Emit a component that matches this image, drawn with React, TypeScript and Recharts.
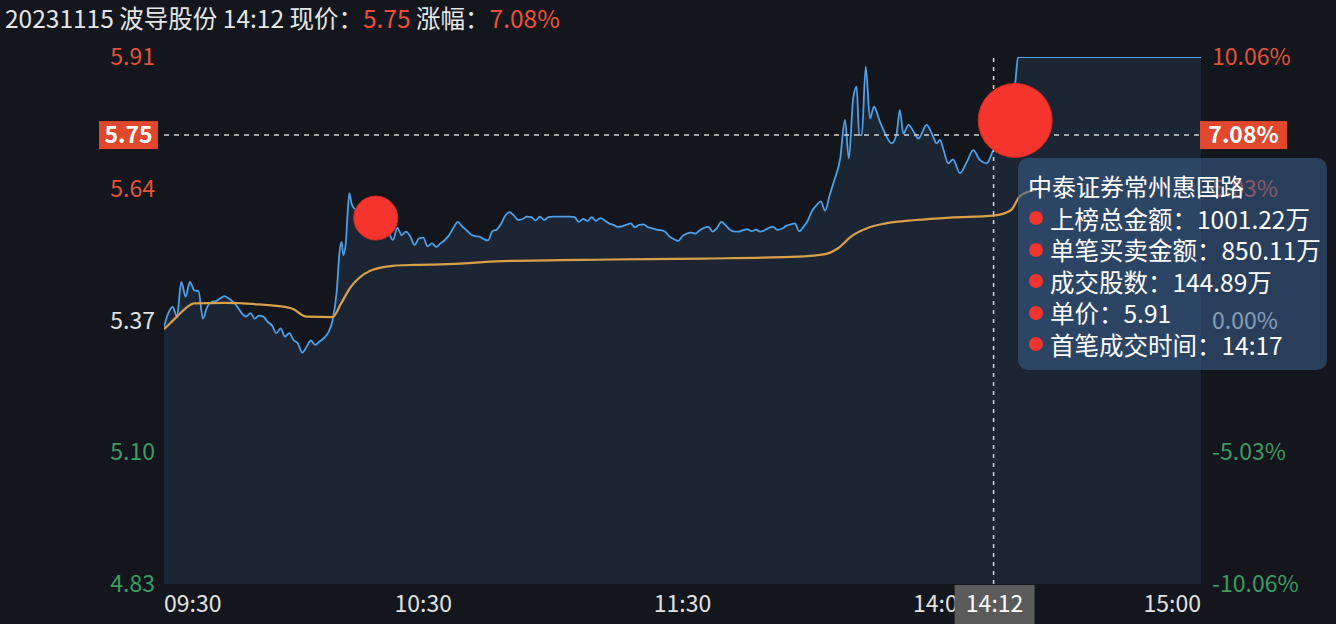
import React from 'react';
import { ComposedChart, Area, Line, XAxis, YAxis, ReferenceLine, ReferenceDot } from 'recharts';

const FONT = '"Noto Sans CJK SC", "Noto Sans", sans-serif';

const titleDate = '20231115';
const stockName = '波导股份';
const currentTime = '14:12';
const currentPrice = 5.75;
const currentPct = '7.08%';
const prevClose = 5.37;

const priceTimes = [
  '09:30','09:31','09:32','09:33','09:34','09:35','09:36','09:37','09:38','09:39',
  '09:40','09:41','09:42','09:43','09:44','09:45','09:46','09:47','09:48','09:49',
  '09:50','09:51','09:52','09:53','09:54','09:55','09:56','09:57','09:58','09:59',
  '10:00','10:01','10:02','10:03','10:04','10:05','10:06','10:07','10:08','10:09',
  '10:10','10:10:36','10:11:06','10:11:30','10:12:06','10:12:24','10:12:54','10:13:24',
  '10:14','10:15','10:16','10:17','10:18','10:19','10:20','10:21','10:22','10:23',
  '10:24','10:25','10:26','10:27','10:28','10:29','10:30','10:31','10:32','10:33',
  '10:34','10:35','10:36','10:37','10:38','10:39','10:40','10:41','10:42','10:43',
  '10:44','10:45','10:46','10:47','10:48','10:49','10:50','10:51','10:52','10:53',
  '10:54','10:55','10:56','10:57','10:58','10:59','11:00','11:01','11:02','11:03',
  '11:04','11:05','11:06','11:07','11:08','11:09','11:10','11:11','11:12','11:13',
  '11:14','11:15','11:16','11:17','11:18','11:19','11:20','11:21','11:22','11:23',
  '11:24','11:25','11:26','11:27','11:28','11:29','11:30',
  '13:01','13:02','13:03','13:04','13:05','13:06','13:07','13:08','13:09','13:10',
  '13:11','13:12','13:13','13:14','13:15','13:16','13:17','13:18','13:19','13:20',
  '13:21','13:22','13:23','13:24','13:25','13:26','13:27','13:28','13:29','13:30',
  '13:31','13:32','13:33','13:34','13:35','13:36:30','13:37:36','13:38:30','13:39:30',
  '13:40:18','13:40:54','13:41:30','13:42:24','13:43:24','13:44:18','13:45:42','13:46:54',
  '13:48:24','13:49:30','13:50:18','13:51:06','13:52:18','13:53:18','13:54:36','13:56:30',
  '13:58:00','13:58:48','13:59:36','14:00:18','14:01:30','14:02:36','14:04:12','14:05:48',
  '14:07:18','14:08:48','14:10:24','14:11:54','14:13','14:14','14:15','14:16','14:17',
  '14:17:40','15:00',
];

const prices = [
  5.357,5.385,5.398,5.378,5.449,5.419,5.449,5.432,5.43,5.374,
  5.398,5.408,5.41,5.415,5.42,5.415,5.408,5.398,5.385,5.378,
  5.385,5.374,5.38,5.378,5.367,5.36,5.344,5.354,5.337,5.344,
  5.33,5.323,5.304,5.316,5.329,5.32,5.327,5.334,5.345,5.37,
  5.432,5.508,5.531,5.504,5.531,5.576,5.631,5.61,
  5.6,5.595,5.59,5.585,5.58,5.578,5.57,5.565,5.55,5.535,
  5.56,5.545,5.552,5.542,5.525,5.538,5.54,5.522,5.528,5.521,
  5.528,5.535,5.545,5.56,5.572,5.563,5.555,5.547,5.543,5.542,
  5.537,5.534,5.553,5.556,5.568,5.585,5.592,5.585,5.576,5.578,
  5.583,5.582,5.575,5.583,5.576,5.582,5.583,5.583,5.583,5.583,
  5.583,5.582,5.572,5.578,5.574,5.582,5.574,5.58,5.575,5.569,
  5.566,5.562,5.563,5.566,5.569,5.561,5.566,5.567,5.561,5.559,
  5.556,5.555,5.552,5.542,5.537,5.533,5.543,
  5.548,5.55,5.548,5.555,5.56,5.562,5.552,5.56,5.572,5.565,
  5.556,5.552,5.552,5.555,5.557,5.553,5.556,5.552,5.555,5.56,
  5.562,5.556,5.558,5.564,5.567,5.569,5.553,5.562,5.575,5.595,
  5.606,5.614,5.595,5.625,5.654,5.702,5.781,5.702,5.825,
  5.849,5.75,5.75,5.89,5.784,5.808,5.777,5.753,
  5.733,5.75,5.801,5.753,5.771,5.76,5.743,5.771,
  5.747,5.733,5.74,5.723,5.692,5.7,5.672,5.695,
  5.719,5.699,5.692,5.719,5.74,5.76,5.79,5.82,5.856,
  5.91,5.91,
];

const avgTimes = [
  '09:30','09:33','09:35','09:37','09:44','09:52','09:58','10:00','10:02','10:03',
  '10:09','10:11','10:13','10:15','10:18','10:23','10:28','10:34','10:50','11:13',
  '13:05','13:27','13:33','13:36','13:39','13:43','13:47','13:54','14:02','14:12',
  '14:16','14:18','14:20','14:22',
];
const avgPrices = [
  5.352,5.378,5.395,5.405,5.406,5.403,5.398,5.393,5.381,5.378,
  5.377,5.405,5.436,5.456,5.473,5.482,5.484,5.485,5.492,5.495,
  5.497,5.501,5.506,5.518,5.542,5.56,5.569,5.576,5.581,5.585,
  5.596,5.624,5.634,5.638,
];

const markerTimes = ['10:19', '14:17'];
const markerPrices = [5.58, 5.78];

const yTicks = [4.83, 5.1, 5.37, 5.64, 5.91];
const yTickLabels = ['4.83', '5.10', '5.37', '5.64', '5.91'];
const pctLabels = ['-10.06%', '-5.03%', '0.00%', '5.03%', '10.06%'];
const xTickTimes = ['09:30', '10:30', '11:30', '14:00', '15:00'];

const tooltipTitle = '中泰证券常州惠国路';
const tooltipLabels = ['上榜总金额', '单笔买卖金额', '成交股数', '单价', '首笔成交时间'];
const tooltipValues = ['1001.22万', '850.11万', '144.89万', '5.91', '14:17'];

function toIndex(t: string): number {
  const parts = t.split(':').map(Number);
  const mins = parts[0] * 60 + parts[1] + (parts[2] || 0) / 60;
  return mins <= 690 ? mins - 570 : mins - 780 + 120;
}

const priceData = priceTimes.map((t, i) => ({ t: toIndex(t), v: prices[i] }));
const avgData = avgTimes.map((t, i) => ({ t: toIndex(t), v: avgPrices[i] }));
const xTickList = [...xTickTimes, currentTime];

const RED = '#e4523a';
const GREEN = '#3f9a63';
const WHITE = '#e2e2e2';

function colorFor(v: number) {
  if (Math.abs(v - prevClose) < 1e-6) return WHITE;
  return v > prevClose ? RED : GREEN;
}

const LeftTick = (props: any) => {
  const { x, y, payload, index } = props;
  return (
    <text x={x} y={y} dy={8} textAnchor="end" fill={colorFor(payload.value)} fontSize={23} fontFamily={FONT}>
      {yTickLabels[index]}
    </text>
  );
};

const RightTick = (props: any) => {
  const { x, y, payload, index } = props;
  return (
    <text x={x} y={y} dy={8} textAnchor="start" fill={colorFor(payload.value)} fontSize={23} fontFamily={FONT}>
      {pctLabels[index]}
    </text>
  );
};

const BottomTick = (props: any) => {
  const { x, y, index } = props;
  const label = xTickList[index];
  if (label === currentTime && index === xTickList.length - 1) {
    return (
      <g>
        <rect x={x - 39} y={y + 1} width={80} height={40} fill="#5b5b5b" />
        <text x={x + 1} y={y} dy={28} textAnchor="middle" fill="#ffffff" fontSize={23} fontFamily={FONT}>
          {label}
        </text>
      </g>
    );
  }
  const anchor = index === 0 ? 'start' : label === '15:00' ? 'end' : 'middle';
  return (
    <text x={x} y={y} dy={28} textAnchor={anchor} fill={WHITE} fontSize={23} fontFamily={FONT}>
      {label}
    </text>
  );
};

const PriceLineLabel = (props: any) => {
  const vb = props.viewBox || {};
  const x = vb.x, y = vb.y, w = vb.width;
  return (
    <g>
      <rect x={x - 65} y={y - 14} width={59} height={28} fill="#e0472d" />
      <text x={x - 35.5} y={y + 8} textAnchor="middle" fill="#ffffff" fontSize={23} fontWeight={600} fontFamily={FONT}>
        {currentPrice.toFixed(2)}
      </text>
      <rect x={x + w - 1} y={y - 14} width={87} height={28} fill="#e0472d" />
      <text x={x + w + 42.5} y={y + 8} textAnchor="middle" fill="#ffffff" fontSize={23} fontWeight={600} fontFamily={FONT}>
        {currentPct}
      </text>
    </g>
  );
};

export default function App() {
  return (
    <div style={{ position: 'absolute', left: 0, top: 0, width: 1336, height: 624, background: '#13161d', overflow: 'hidden', fontFamily: FONT }}>
      <div style={{ position: 'absolute', left: 5, top: 2, fontSize: 24.5, color: '#e6e6e6', whiteSpace: 'nowrap', lineHeight: '32px' }}>
        {titleDate} {stockName} {currentTime} 现价：<span style={{ color: '#f0503a' }}>{currentPrice.toFixed(2)}</span> 涨幅：<span style={{ color: '#f0503a' }}>{currentPct}</span>
      </div>
      <ComposedChart width={1336} height={624} margin={{ top: 57, right: 0, bottom: 0, left: 0 }} style={{ position: 'absolute', left: 0, top: 0 }}>
        <XAxis
          type="number"
          dataKey="t"
          domain={[0, 240]}
          ticks={xTickList.map(toIndex)}
          height={40}
          tickLine={false}
          axisLine={false}
          tickSize={0}
          tickMargin={0}
          interval={0}
          tick={<BottomTick />}
          allowDataOverflow
        />
        <YAxis
          yAxisId="left"
          orientation="left"
          type="number"
          domain={[4.83, 5.91]}
          ticks={yTicks}
          width={164}
          tickLine={false}
          axisLine={false}
          tickSize={0}
          tickMargin={9}
          interval={0}
          tick={<LeftTick />}
          allowDataOverflow
        />
        <YAxis
          yAxisId="right"
          orientation="right"
          type="number"
          domain={[4.83, 5.91]}
          ticks={yTicks}
          width={135}
          tickLine={false}
          axisLine={false}
          tickSize={0}
          tickMargin={11}
          interval={0}
          tick={<RightTick />}
          allowDataOverflow
        />
        <Area
          yAxisId="left"
          data={priceData}
          dataKey="v"
          type="monotone"
          stroke="#4fa0e6"
          strokeWidth={1.8}
          fill="#1b2533"
          fillOpacity={1}
          dot={false}
          activeDot={false}
          isAnimationActive={false}
        />
        <Line
          yAxisId="left"
          data={avgData}
          dataKey="v"
          type="monotone"
          stroke="#d9a04a"
          strokeWidth={2.2}
          dot={false}
          activeDot={false}
          isAnimationActive={false}
        />
        {markerTimes.map((t, i) => (
          <ReferenceDot
            key={t}
            yAxisId="left"
            x={toIndex(t)}
            y={markerPrices[i]}
            r={i === 0 ? 22 : 37}
            fill="#f5342e"
            stroke="#d42a26"
            strokeWidth={1}
          />
        ))}
        <ReferenceLine
          yAxisId="left"
          y={currentPrice}
          stroke="#cfcfcf"
          strokeWidth={1.5}
          strokeDasharray="5 5"
          label={<PriceLineLabel />}
        />
        <ReferenceLine
          yAxisId="left"
          x={toIndex(currentTime)}
          stroke="#d8d8d8"
          strokeWidth={1.5}
          strokeDasharray="4 5"
        />
      </ComposedChart>
      <div style={{ position: 'absolute', left: 1018, top: 158, width: 309, height: 212, borderRadius: 10, background: 'rgba(58, 96, 142, 0.55)' }}>
        <div style={{ position: 'absolute', left: 10, top: 12, fontSize: 24, lineHeight: '32px', color: '#ffffff', whiteSpace: 'nowrap' }}>
          {tooltipTitle}
        </div>
        {tooltipLabels.map((label, i) => (
          <div key={label} style={{ position: 'absolute', left: 11, top: 44 + i * 31.6, height: 32, display: 'flex', alignItems: 'center', whiteSpace: 'nowrap' }}>
            <span style={{ display: 'inline-block', width: 14, height: 14, borderRadius: 7, background: '#f0342e', marginRight: 7 }} />
            <span style={{ fontSize: 24.5, color: '#ffffff' }}>{label}：{tooltipValues[i]}</span>
          </div>
        ))}
      </div>
    </div>
  );
}
